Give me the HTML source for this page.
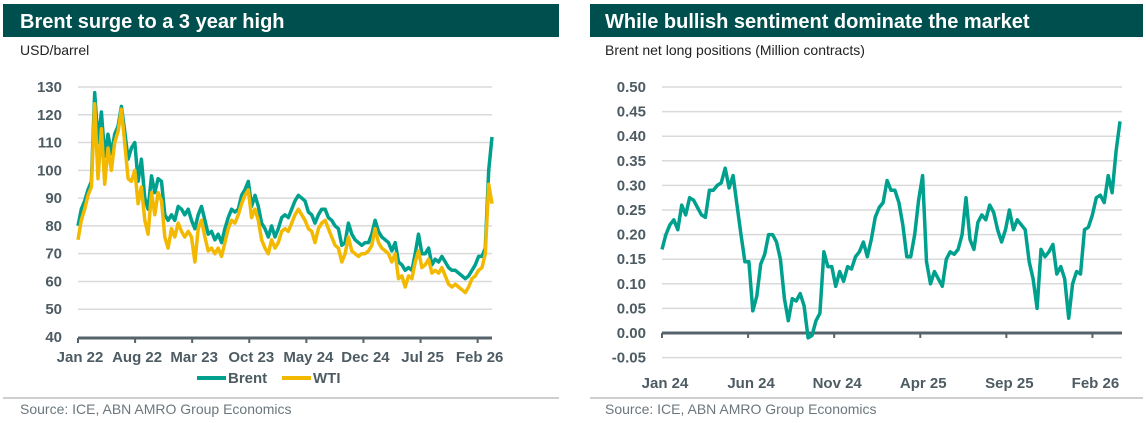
<!DOCTYPE html>
<html><head><meta charset="utf-8"><style>
html,body{margin:0;padding:0;background:#fff;}
svg{display:block;font-family:"Liberation Sans",sans-serif;}
.tk{font-size:15px;font-weight:bold;fill:#4d5b63;}
</style></head><body>
<svg id="chart" width="1146" height="423" viewBox="0 0 1146 423">
<rect x="3" y="4" width="556" height="33" fill="#004f4f"/>
<text x="20" y="28" font-size="20" font-weight="bold" fill="#fff">Brent surge to a 3 year high</text>
<text x="20" y="55" font-size="14" fill="#222">USD/barrel</text>
<rect x="590" y="4" width="553" height="33" fill="#004f4f"/>
<text x="605" y="28" font-size="20" font-weight="bold" fill="#fff">While bullish sentiment dominate the market</text>
<text x="605" y="55" font-size="14" fill="#222">Brent net long positions (Million contracts)</text>
<g id="left"></g>
<g id="right"></g>
<g>
<line x1="197" y1="378" x2="226" y2="378" stroke="#00a08e" stroke-width="4"/>
<text x="228" y="383" class="tk" font-size="14">Brent</text>
<line x1="282" y1="378" x2="311" y2="378" stroke="#f2b900" stroke-width="4"/>
<text x="313" y="383" class="tk" font-size="14">WTI</text>
</g>
<line x1="3" y1="398" x2="559" y2="398" stroke="#cfcfcf" stroke-width="2"/>
<line x1="590" y1="398" x2="1143" y2="398" stroke="#cfcfcf" stroke-width="2"/>
<text x="20" y="414" font-size="14" fill="#6b777d">Source: ICE, ABN AMRO Group Economics</text>
<text x="605" y="414" font-size="14" fill="#6b777d">Source: ICE, ABN AMRO Group Economics</text>
</svg>
<script>
const brent=[80,86,89,93,96,128,110,121,105,113,106,113,116,123,114,104,108,110,96,104,90,86,98,92,97,96,84,82,84,82,87,86,84,86,82,79,84,87,82,77,78,75,77,74,79,83,86,85,86,91,93,96,87,91,87,81,79,76,80,76,79,83,84,83,86,89,91,90,89,85,84,81,84,86,86,83,82,80,79,73,74,81,77,75,74,73,74,74,77,82,78,76,75,74,71,74,67,66,64,65,64,70,77,70,70,72,66,68,67,69,67,65,64,64,63,62,61,62,64,66,69,69,72,100,112];
const wti=[75,82,86,91,94,124,97,115,95,108,100,110,114,122,110,97,96,100,88,94,82,77,92,84,92,89,76,72,79,76,81,78,76,78,76,67,79,82,76,71,72,70,72,69,74,79,82,81,84,88,91,93,83,86,82,75,72,70,75,72,74,78,79,78,81,84,86,84,82,79,78,74,79,81,82,79,76,73,72,67,70,76,71,70,69,70,70,71,73,79,74,72,71,70,67,70,61,62,58,62,61,67,71,65,66,68,63,64,63,65,62,59,58,59,58,57,56,58,61,62,64,65,70,95,88];
const leftTicks=["Jan 22","Aug 22","Mar 23","Oct 23","May 24","Dec 24","Jul 25","Feb 26"];
const leftYTicks=[40,50,60,70,80,90,100,110,120,130];
const netLong=[0.17,0.20,0.22,0.23,0.21,0.26,0.24,0.275,0.27,0.255,0.24,0.235,0.29,0.29,0.30,0.305,0.335,0.295,0.32,0.26,0.20,0.145,0.145,0.045,0.075,0.14,0.16,0.20,0.20,0.185,0.15,0.07,0.025,0.07,0.065,0.08,0.055,-0.01,-0.005,0.025,0.04,0.165,0.135,0.135,0.095,0.125,0.105,0.135,0.13,0.155,0.165,0.185,0.155,0.19,0.235,0.255,0.265,0.31,0.29,0.29,0.265,0.22,0.155,0.155,0.20,0.27,0.32,0.145,0.10,0.125,0.11,0.095,0.15,0.165,0.16,0.17,0.20,0.275,0.19,0.17,0.225,0.24,0.23,0.26,0.245,0.21,0.185,0.21,0.25,0.21,0.23,0.22,0.21,0.145,0.11,0.05,0.17,0.155,0.165,0.18,0.12,0.135,0.11,0.03,0.10,0.125,0.12,0.21,0.215,0.24,0.275,0.28,0.265,0.32,0.285,0.37,0.43];
const rightTicks=["Jan 24","Jun 24","Nov 24","Apr 25","Sep 25","Feb 26"];
const rightYTicks=[-0.05,0,0.05,0.10,0.15,0.20,0.25,0.30,0.35,0.40,0.45,0.50];

const NS="http://www.w3.org/2000/svg";
function mk(p,tag,at){const e=document.createElementNS(NS,tag);for(const k in at)e.setAttribute(k,at[k]);p.appendChild(e);return e;}
function lin(d0,d1,r0,r1){return v=>r0+(v-d0)*(r1-r0)/(d1-d0);}

// LEFT
const L=document.getElementById('left');
const lx=lin(0,brent.length-1,78,492), ly=lin(40,130,337,87);
leftYTicks.forEach(v=>{
  if(v>40){const g=mk(L,'line',{x1:78,x2:492,y1:ly(v),y2:ly(v),stroke:'#dadada','stroke-width':1.5});
  
  }
  const t=mk(L,'text',{x:62,y:ly(v)+5,'text-anchor':'end',class:'tk'});t.textContent=v;
  
  
});
function path(P,arr,xs,ys,col,name){
  const d=arr.map((v,i)=>(i?'L':'M')+xs(i).toFixed(1)+','+ys(v).toFixed(1)).join('');
  const p=mk(P,'path',{d:d,fill:'none',stroke:col,'stroke-width':3.5,'stroke-linejoin':'round'});
  
  
}
path(L,brent,lx,ly,'#00a08e','brent-line');
path(L,wti,lx,ly,'#f2b900','wti-line');
const ax=mk(L,'line',{x1:78,x2:492,y1:338,y2:338,stroke:'#56636b','stroke-width':3});


leftTicks.forEach((s,k)=>{
  const x=lx(k*17.1);
  const tl=mk(L,'line',{x1:x,x2:x,y1:338,y2:343,stroke:'#56636b','stroke-width':2});
  
  
  const t=mk(L,'text',{x:x+2,y:362,'text-anchor':'middle',class:'tk'});t.textContent=s;
  
  
});

// RIGHT
const R=document.getElementById('right');
const rx=lin(0,netLong.length-1,662,1120), ry=lin(0,0.5,333,87);
rightYTicks.forEach(v=>{
  if(v!==0){const g=mk(R,'line',{x1:662,x2:1122,y1:ry(v),y2:ry(v),stroke:'#dadada','stroke-width':1.5});
  
  }
  const t=mk(R,'text',{x:646,y:ry(v)+5,'text-anchor':'end',class:'tk'});t.textContent=v.toFixed(2);
  
  
});
const ax2=mk(R,'line',{x1:662,x2:1122,y1:ry(0),y2:ry(0),stroke:'#56636b','stroke-width':3});


path(R,netLong,rx,ry,'#00a08e','net-long-line');
const rt=lin(0,26.6,662,1120);
rightTicks.forEach((s,k)=>{
  const x=rt(k*5);
  const tl=mk(R,'line',{x1:x,x2:x,y1:ry(0),y2:ry(0)+5,stroke:'#56636b','stroke-width':2});
  
  
  const t=mk(R,'text',{x:x+3,y:388,'text-anchor':'middle',class:'tk'});t.textContent=s;
  
  
});
</script>
</body></html>
